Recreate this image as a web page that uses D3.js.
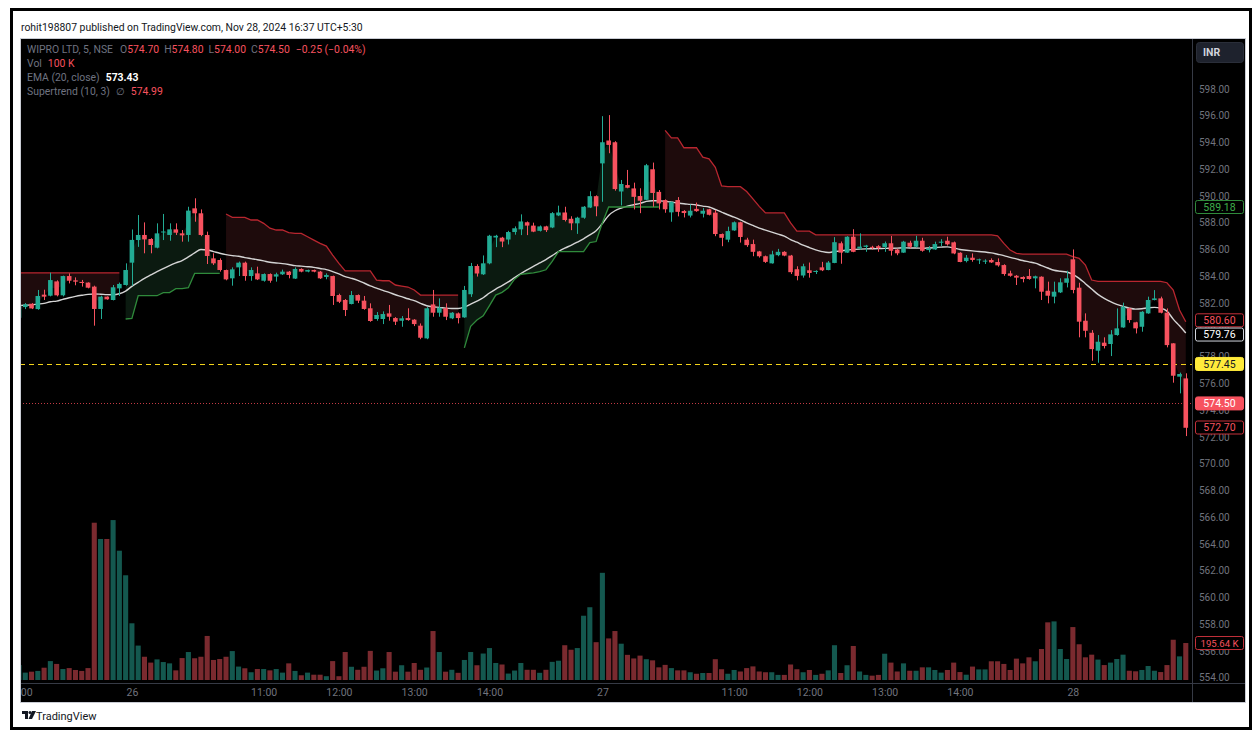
<!DOCTYPE html>
<html>
<head>
<meta charset="utf-8" />
<title>WIPRO LTD, 5, NSE</title>
<script src="https://cdn.jsdelivr.net/npm/d3@7"></script>
<style>
    body { margin: 0; background: #fff; }
    svg text { font-family: Roboto, "Noto Sans", sans-serif; }
</style>
</head>
<body>
<script>

// ---- data (5 min bars, 25 Nov 14:00 -> 28 Nov 10:45) ----
const openP = [
580.90,581.70,581.95,581.55,582.63,582.55,583.62,582.58,584.02,583.70,583.58,583.53,583.23,581.56,582.48,582.23,583.10,583.35,
585.02,586.71,587.09,586.79,586.14,587.30,587.09,587.51,587.21,587.09,589.08,588.71,587.09,585.34,585.22,584.47,583.85,584.67,
585.02,584.02,584.22,583.67,584.17,583.98,584.15,584.35,583.83,584.55,584.35,584.47,584.35,583.95,584.02,582.60,582.23,581.93,
582.60,582.18,581.61,580.81,580.81,581.23,580.88,580.68,580.88,580.76,580.31,579.36,581.90,581.28,581.61,580.86,581.23,580.93,
582.66,584.77,584.15,584.97,586.90,586.89,586.75,587.31,587.51,588.04,587.79,587.40,587.73,587.65,588.55,588.77,588.30,587.96,
588.38,589.14,589.99,
592.44,594.15,594.02,590.34,590.82,590.57,590.00,589.72,592.00,590.31,589.70,588.78,589.70,588.88,588.54,589.04,588.68,589.01,
588.76,587.16,586.74,587.43,588.04,586.74,586.41,585.86,585.50,584.97,585.58,585.83,585.55,584.53,584.06,584.45,584.33,584.67,
584.47,585.00,586.47,585.77,586.96,586.08,586.20,586.20,586.25,586.19,586.47,586.00,585.77,586.51,586.21,586.66,585.96,586.01,
586.51,586.66,586.54,585.76,585.14,585.39,585.22,585.12,585.22,585.07,584.84,584.22,584.04,583.95,584.02,583.85,583.97,582.92,
582.48,582.80,583.52,
585.27,583.15,580.68,579.78,578.44,579.04,578.94,579.61,580.18,581.60,580.56,580.23,581.23,582.23,582.35,581.28,578.99,576.50,
576.37];
const highP = [
581.90,582.00,582.00,582.98,583.00,584.27,583.70,584.05,584.22,583.92,583.73,583.55,583.30,582.55,582.50,583.35,583.53,584.97,
587.50,588.58,588.03,586.85,587.96,588.66,587.96,587.96,587.46,589.20,589.83,589.00,587.34,585.72,585.34,584.50,584.67,585.10,
585.10,584.67,584.72,584.22,584.22,584.27,584.50,584.40,584.67,584.60,584.50,584.50,584.40,584.22,584.05,582.70,582.30,582.90,
582.65,582.53,581.98,581.33,581.38,581.86,580.95,581.03,581.61,580.80,580.48,581.70,582.98,582.35,581.98,581.33,581.30,583.28,
585.00,584.90,585.56,587.10,587.10,586.95,587.40,587.73,588.63,588.10,588.01,587.80,587.78,588.80,589.28,589.20,588.49,588.45,
589.25,590.36,590.05,
595.97,596.05,594.10,591.20,591.95,591.00,590.58,592.40,592.50,590.45,589.75,589.60,589.92,588.95,589.37,589.51,589.10,589.05,
588.96,587.20,587.71,588.10,588.08,586.88,586.74,585.90,585.55,585.91,586.05,585.88,585.60,584.75,584.94,585.03,584.45,585.08,
585.14,586.93,586.60,587.00,587.52,587.21,586.35,586.28,586.33,586.60,587.02,586.05,586.65,586.66,587.03,586.88,586.26,586.59,
586.78,586.96,586.60,585.80,585.59,585.71,585.32,585.27,585.34,585.34,584.90,584.42,584.10,584.00,584.54,584.05,584.00,583.60,
583.60,583.85,584.42,
586.01,583.52,581.23,579.98,579.61,579.44,579.98,581.60,582.03,581.65,580.60,581.40,582.48,582.97,582.48,581.60,579.00,576.80,
576.75];
const lowP = [
580.80,581.55,581.55,581.50,582.23,582.50,582.50,582.50,583.47,583.33,583.23,583.10,580.31,580.81,582.25,582.20,582.53,583.30,
583.30,586.20,585.72,585.72,586.09,586.71,586.66,587.09,586.59,586.59,588.08,587.00,584.92,584.85,584.35,583.70,583.30,584.02,
583.67,583.67,583.72,583.60,583.52,583.60,584.10,583.85,583.80,584.30,584.30,584.30,583.80,583.78,581.86,582.00,581.03,581.90,
582.00,581.50,580.60,580.68,580.43,580.68,580.36,580.23,580.68,580.28,579.30,579.30,580.98,580.98,580.73,580.80,580.48,580.90,
582.46,583.98,584.10,584.90,586.18,586.18,586.38,587.11,587.08,587.08,587.30,587.35,587.31,587.60,588.50,588.10,587.45,587.17,
588.30,589.10,588.49,
589.57,593.20,590.40,589.30,590.58,589.00,588.72,589.70,589.20,589.00,588.75,588.08,588.48,588.40,588.40,588.82,588.40,588.55,
587.00,586.25,586.55,587.40,586.52,586.20,585.50,585.40,585.00,584.95,585.50,585.50,584.17,583.70,583.90,583.90,584.17,584.39,
584.45,584.98,584.94,585.75,585.80,586.00,585.83,585.99,585.83,585.83,585.55,585.58,585.75,586.09,586.15,585.84,585.79,585.98,
586.26,586.30,585.65,585.05,585.04,585.09,584.92,584.92,585.00,584.72,584.04,583.97,583.35,583.55,583.75,583.10,582.23,581.98,
581.98,582.75,583.17,
582.73,579.44,579.44,577.69,577.54,578.61,578.04,579.56,580.15,580.53,579.73,579.86,581.20,582.20,581.23,578.69,576.05,575.25,
572.06];
const closeP = [
581.85,581.90,581.60,582.53,582.48,583.72,582.58,584.02,583.67,583.60,583.50,583.15,581.56,582.48,582.28,583.18,583.43,584.47,
586.72,587.09,586.76,586.34,587.21,587.35,587.51,587.26,587.06,588.91,588.71,587.09,585.52,584.97,584.47,583.77,584.52,585.02,
584.02,584.47,583.77,584.17,583.67,584.15,584.35,584.10,584.55,584.35,584.47,584.35,583.85,584.10,582.53,582.10,581.48,582.60,
582.18,581.56,580.66,581.11,581.18,580.98,580.61,580.86,580.73,580.43,579.41,581.61,581.28,581.66,580.98,581.28,580.88,582.98,
584.77,584.21,584.97,587.03,587.03,586.60,587.31,587.59,588.10,587.79,587.34,587.73,587.45,588.72,588.77,588.21,587.96,588.38,
589.20,589.99,589.23,
594.02,593.82,590.52,590.90,590.62,589.94,589.65,592.30,590.23,589.45,589.01,589.55,588.82,588.73,588.90,588.87,588.90,588.60,
587.16,586.88,587.38,588.04,586.94,586.33,585.83,585.50,585.08,585.64,585.83,585.55,584.31,584.03,584.75,584.25,584.40,584.45,
585.03,586.55,585.77,586.96,585.83,586.22,586.30,586.17,586.11,586.47,585.91,585.72,586.59,586.21,586.66,585.91,586.09,586.41,
586.59,586.39,585.71,585.07,585.39,585.22,585.27,585.17,585.04,584.82,584.17,584.04,583.90,583.80,583.80,584.00,582.85,582.55,
582.85,583.55,583.85,
582.98,580.61,579.93,578.56,579.11,578.79,579.66,580.11,581.73,580.73,580.11,581.35,582.23,582.35,581.28,578.86,576.57,576.70,
572.68];
// volume, thousands
const volK = [
79,39,44,48,65,100,85,58,63,53,48,63,832,746,746,846,684,554,
300,182,123,92,109,95,88,51,116,148,115,123,233,106,111,123,153,71,
62,41,58,58,51,58,39,88,48,25,39,28,28,20,100,20,148,70,
54,70,154,50,62,148,44,78,44,90,54,66,259,148,44,54,38,106,
148,78,140,169,90,82,34,50,90,54,54,38,54,96,102,184,160,169,
340,385,200,
567,220,259,192,133,114,129,110,104,67,80,63,51,51,41,33,37,37,
110,57,33,53,45,63,72,45,41,41,27,27,82,57,41,53,27,33,
51,184,37,78,180,45,27,23,27,139,92,45,88,49,49,67,67,53,
39,53,92,42,28,71,56,56,99,99,85,53,113,88,120,99,164,305,
310,164,111,
280,189,120,134,108,79,92,111,134,49,46,53,74,49,42,79,213,125,
195.64];
// EMA (20, close) as drawn
const emaVals = [
581.82,581.84,581.86,581.92,581.98,582.10,582.15,582.28,582.40,582.50,582.58,582.65,582.68,582.66,582.63,582.62,582.70,582.90,
583.25,583.55,583.85,584.10,584.35,584.58,584.80,585.00,585.18,585.45,585.75,586.00,585.97,585.85,585.72,585.62,585.55,585.50,
585.40,585.32,585.24,585.15,585.05,585.00,584.95,584.88,584.80,584.76,584.72,584.67,584.58,584.50,584.35,584.18,583.98,583.85,
583.70,583.50,583.28,583.12,582.95,582.80,582.62,582.48,582.32,582.18,581.98,581.80,581.72,581.68,581.62,581.60,581.60,581.70,
581.92,582.15,582.40,582.75,583.05,583.30,583.58,583.90,584.20,584.48,584.75,585.00,585.25,585.55,585.85,586.10,586.32,586.55,
586.80,587.10,587.40,
587.95,588.55,588.90,589.10,589.25,589.35,589.45,589.60,589.65,589.65,589.60,589.55,589.48,589.42,589.38,589.33,589.25,589.18,
589.00,588.80,588.60,588.42,588.22,588.00,587.80,587.60,587.45,587.30,587.15,587.00,586.75,586.55,586.33,586.15,585.98,585.85,
585.78,585.85,585.90,585.97,586.00,586.03,586.05,586.06,586.07,586.09,586.10,586.11,586.13,586.12,586.12,586.10,586.12,586.15,
586.18,586.20,586.12,586.00,585.95,585.90,585.85,585.82,585.75,585.65,585.55,585.42,585.30,585.18,585.08,584.98,584.80,584.62,
584.45,584.38,584.32,
584.15,583.85,583.45,583.05,582.65,582.35,582.10,581.90,581.75,581.62,581.55,581.58,581.65,581.68,581.62,581.40,580.80,580.30,
579.76];
// Supertrend (10, 3) as drawn
const stVals = [
584.25,584.25,584.25,584.25,584.25,584.25,584.25,584.25,584.25,584.25,584.25,584.25,584.25,584.25,584.25,584.25,584.25,580.81,
580.85,582.55,582.55,582.55,582.55,582.78,582.78,583.08,583.08,583.15,584.22,584.22,584.22,584.22,584.22,588.66,588.41,588.41,
588.41,588.21,588.21,587.96,587.60,587.46,587.46,587.26,587.21,587.21,586.96,586.71,586.46,586.26,585.59,584.97,584.40,584.40,
584.40,584.40,584.40,583.72,583.67,583.67,583.35,583.27,583.20,582.98,582.60,582.60,582.60,582.60,582.60,582.60,582.60,578.65,
580.26,580.74,581.05,581.81,582.60,582.80,583.14,583.79,584.15,584.21,584.26,584.35,584.49,585.11,585.84,585.84,585.84,585.84,
585.84,586.52,586.60,
588.00,589.18,589.18,589.18,589.18,589.18,589.18,589.18,589.18,589.18,594.91,594.35,594.35,593.61,593.61,593.61,592.91,592.78,
592.14,590.76,590.70,590.70,590.70,590.34,589.79,589.23,588.74,588.74,588.74,588.74,587.99,587.38,587.38,587.38,587.10,587.10,
587.10,587.10,587.10,587.10,587.10,587.10,587.10,587.10,587.10,587.10,587.10,587.10,587.10,587.10,587.10,587.10,587.10,587.10,
587.10,587.10,587.10,587.10,587.10,587.10,587.10,587.10,587.10,587.03,586.46,585.96,585.71,585.66,585.66,585.66,585.66,585.66,
585.66,585.66,585.66,
585.47,585.34,584.84,583.72,583.62,583.62,583.62,583.62,583.62,583.62,583.62,583.62,583.62,583.62,583.62,583.52,582.97,581.48,
580.60];
const stFlips = [17, 33, 71, 103];   // bars where the Supertrend changes side
const stStartDir = -1;                // -1: above price (red), 1: below price (green)

const priceTicks = [598,596,594,592,590,588,586,584,582,580,578,576,574,572,570,568,566,564,562,560,558,556,554];
const timeTickIdx = [0, 18, 39, 51, 63, 75, 93, 114, 126, 138, 150, 168];
const timeTickLbl = ["14:00","26","11:00","12:00","13:00","14:00","27","11:00","12:00","13:00","14:00","28"];

const legendOHLC = ["574.70", "574.80", "574.00", "574.50"];
const legendChg = "\u22120.25 (\u22120.04%)";
const legendVol = "100 K";
const legendEma = "573.43";
const legendSt = "574.99";

const hLineVal = 577.45;      // drawn horizontal line
const lastPrice = 574.50;
const stUpLast = 589.18, stDnLast = 580.60, emaLast = 579.76, closeLast = 572.70;
const volLast = 195.64, volLastLbl = "195.64 K";

// ---- layout ----
const W = 1260, H = 734;
const plot = {left: 20, right: 1192, top: 38, bottom: 683};
const paneRight = 1245, paneBottom = 702;

const RED = "#f7525f", TEAL = "#22ab94";
const VRED = "#7a2a2f", VTEAL = "#14584f";
const AXIS_TXT = "#70737d";

const n = closeP.length;
const step = 6.273;

let x = d3.scaleLinear().domain([0, n - 1]).range([19, 19 + (n - 1) * step]);
let y = d3.scaleLinear().domain([554, 598]).range([677.7, 89]);
let yv = d3.scaleLinear().domain([0, 1000]).range([680, 680 - 1000 / 5.29]);
let crisp = v => Math.round(v) + 0.5;

let svg = d3.select("body").append("svg")
    .attr("width", W)
    .attr("height", H);

svg.append("rect").attr("width", W).attr("height", H).attr("fill", "#fff");
// outer frame
svg.append("rect")
    .attr("x", 11.5).attr("y", 9.5)
    .attr("width", 1239).attr("height", 719)
    .attr("fill", "none").attr("stroke", "#000").attr("stroke-width", 3);

svg.append("text")
    .attr("x", 21).attr("y", 31)
    .attr("font-size", 10.4).attr("fill", "#131722")
    .text("rohit198807 published on TradingView.com, Nov 28, 2024 16:37 UTC+5:30");

// chart pane
svg.append("rect")
    .attr("x", plot.left + 0.5).attr("y", plot.top + 0.5)
    .attr("width", paneRight - plot.left).attr("height", paneBottom - plot.top)
    .attr("fill", "#000").attr("stroke", "#c9ccd4").attr("stroke-width", 1);

svg.append("defs").append("clipPath").attr("id", "clip")
    .append("rect")
    .attr("x", plot.left + 1).attr("y", plot.top + 1)
    .attr("width", plot.right - plot.left - 1).attr("height", plot.bottom - plot.top - 1);

let g = svg.append("g").attr("clip-path", "url(#clip)");

// volume
g.selectAll("rect.vol")
    .data(volK)
    .enter()
    .append("rect")
    .attr("class", "vol")
    .attr("x", (d, i) => x(i) - (step - 1.2) / 2)
    .attr("width", step - 1.2)
    .attr("y", d => yv(d))
    .attr("height", d => yv(0) - yv(d))
    .attr("fill", (d, i) => closeP[i] >= openP[i] ? VTEAL : VRED);

// supertrend: split into runs of the same side
let dirs = [];
let dir = stStartDir;
for (let i = 0; i < n; i++) {
    if (stFlips.includes(i)) dir = -dir;
    dirs.push(dir);
}
let runs = [];
for (let i = 0; i < n; i++) {
    if (i === 0 || dirs[i] !== dirs[i - 1]) runs.push({dir: dirs[i], idx: []});
    runs[runs.length - 1].idx.push(i);
}

let stArea = d3.area()
    .x(i => x(i))
    .y0(i => y((openP[i] + closeP[i]) / 2))
    .y1(i => y(stVals[i]));
let stLine = d3.line()
    .x(i => x(i))
    .y(i => y(stVals[i]));

runs.forEach(r => {
    g.append("path")
        .attr("d", stArea(r.idx))
        .attr("fill", r.dir > 0 ? "#0b1a10" : "#1e0b0c");
});

// EMA
g.append("path")
    .datum(emaVals)
    .attr("d", d3.line().x((d, i) => x(i)).y(d => y(d)).curve(d3.curveMonotoneX))
    .attr("fill", "none")
    .attr("stroke", "#d4d4d4")
    .attr("stroke-width", 1.4);

runs.forEach(r => {
    g.append("path")
        .attr("d", stLine(r.idx))
        .attr("fill", "none")
        .attr("stroke", r.dir > 0 ? "#2f8a3b" : "#b8262f")
        .attr("stroke-width", 1.3);
});

// horizontal lines
g.append("line")
    .attr("x1", plot.left).attr("x2", plot.right)
    .attr("y1", crisp(y(hLineVal))).attr("y2", crisp(y(hLineVal)))
    .attr("stroke", "#f2d21b").attr("stroke-width", 1)
    .attr("stroke-dasharray", "5,4");
g.append("line")
    .attr("x1", plot.left).attr("x2", plot.right)
    .attr("y1", crisp(y(lastPrice))).attr("y2", crisp(y(lastPrice)))
    .attr("stroke", "#c23a44").attr("stroke-width", 1)
    .attr("stroke-dasharray", "1,2");

// candles
let candles = g.selectAll("g.candle")
    .data(closeP)
    .enter()
    .append("g")
    .attr("class", "candle");

candles.append("line")
    .attr("x1", (d, i) => crisp(x(i)))
    .attr("x2", (d, i) => crisp(x(i)))
    .attr("y1", (d, i) => y(highP[i]))
    .attr("y2", (d, i) => y(lowP[i]))
    .attr("stroke", (d, i) => d >= openP[i] ? TEAL : RED)
    .attr("stroke-width", 1);

candles.append("rect")
    .attr("x", (d, i) => x(i) - 2.3)
    .attr("width", 4.6)
    .attr("y", (d, i) => y(Math.max(d, openP[i])))
    .attr("height", (d, i) => Math.max(1, Math.abs(y(d) - y(openP[i]))))
    .attr("fill", (d, i) => d >= openP[i] ? TEAL : RED);

// axis separators
svg.append("line")
    .attr("x1", plot.right + 0.5).attr("x2", plot.right + 0.5)
    .attr("y1", plot.top + 1).attr("y2", paneBottom)
    .attr("stroke", "#363a45");
svg.append("line")
    .attr("x1", plot.left + 1).attr("x2", paneRight)
    .attr("y1", plot.bottom + 0.5).attr("y2", plot.bottom + 0.5)
    .attr("stroke", "#363a45");

// axis labels that sit on top of the price scale
let boxes = [
    {v: stUpLast, t: stUpLast.toFixed(2), yy: y(stUpLast), fill: "#000", stroke: "#2f8a3b", txt: "#3fae4b"},
    {v: stDnLast, t: stDnLast.toFixed(2), yy: y(stDnLast) - 1.5, fill: "#000", stroke: "#c3303a", txt: RED},
    {v: emaLast, t: emaLast.toFixed(2), yy: y(emaLast) + 1.5, fill: "#000", stroke: "#d1d4dc", txt: "#ffffff"},
    {v: hLineVal, t: hLineVal.toFixed(2), yy: y(hLineVal), fill: "#ffeb3b", stroke: "#ffeb3b", txt: "#131722"},
    {v: lastPrice, t: lastPrice.toFixed(2), yy: y(lastPrice), fill: RED, stroke: RED, txt: "#ffffff"},
    {v: closeLast, t: closeLast.toFixed(2), yy: y(closeLast), fill: "#000", stroke: "#c3303a", txt: RED},
    {v: volLast, t: volLastLbl, yy: yv(volLast), fill: "#000", stroke: "#c3303a", txt: RED}
];

// price axis (ticks hidden where a label box covers them completely)
let yAxis = d3.axisRight(y)
    .tickValues(priceTicks.filter(p => !boxes.some(b => Math.abs(b.yy - y(p)) < 4)))
    .tickFormat(d3.format(".2f"))
    .tickSize(0)
    .tickPadding(7);
let ya = svg.append("g")
    .attr("transform", "translate(" + plot.right + ",0)")
    .call(yAxis);
ya.select(".domain").remove();
ya.selectAll("text")
    .attr("fill", AXIS_TXT)
    .attr("font-size", 10)
    .attr("font-family", "Roboto, 'Noto Sans', sans-serif");

// time axis
let xAxis = d3.axisBottom(x)
    .tickValues(timeTickIdx)
    .tickFormat((d, k) => timeTickLbl[k])
    .tickSize(0)
    .tickPadding(6);
svg.append("defs").append("clipPath").attr("id", "clipx")
    .append("rect")
    .attr("x", plot.left + 1).attr("y", plot.bottom)
    .attr("width", plot.right - plot.left).attr("height", paneBottom - plot.bottom);
let xa = svg.append("g")
    .attr("clip-path", "url(#clipx)")
    .append("g")
    .attr("transform", "translate(0," + plot.bottom + ")")
    .call(xAxis);
xa.select(".domain").remove();
xa.selectAll("text")
    .attr("fill", AXIS_TXT)
    .attr("font-size", 10.5)
    .attr("font-family", "Roboto, 'Noto Sans', sans-serif");

boxes.forEach(b => {
    let bx = svg.append("g").attr("transform", "translate(" + (plot.right + 3) + "," + b.yy + ")");
    bx.append("rect")
        .attr("x", 0.5).attr("y", -6.5)
        .attr("width", 48).attr("height", 13)
        .attr("rx", 2)
        .attr("fill", b.fill).attr("stroke", b.stroke);
    bx.append("text")
        .attr("x", 24.5).attr("y", 3.6)
        .attr("text-anchor", "middle")
        .attr("font-size", b.t.length > 6 ? 9.6 : 10.5)
        .attr("fill", b.txt)
        .text(b.t);
});

// INR button
svg.append("rect")
    .attr("x", 1196.5).attr("y", 42.5)
    .attr("width", 47).attr("height", 20)
    .attr("rx", 3)
    .attr("fill", "#1e222d").attr("stroke", "#2a2e39");
svg.append("text")
    .attr("x", 1203).attr("y", 56)
    .attr("font-size", 10.5).attr("font-weight", "bold")
    .attr("fill", "#d1d4dc")
    .text("INR");

// legend
let GRAY = "#6f7380";
let leg = svg.append("g").attr("font-size", 10.4);
let l1 = leg.append("text").attr("x", 27).attr("y", 53);
l1.append("tspan").attr("fill", GRAY).text("WIPRO LTD, 5, NSE");
["O", "H", "L", "C"].forEach((k, j) => {
    l1.append("tspan").attr("fill", GRAY).attr("dx", j === 0 ? 7 : 5).text(k);
    l1.append("tspan").attr("fill", RED).text(legendOHLC[j]);
});
l1.append("tspan").attr("fill", RED).attr("dx", 6).text(legendChg);

let l2 = leg.append("text").attr("x", 27).attr("y", 67);
l2.append("tspan").attr("fill", GRAY).text("Vol");
l2.append("tspan").attr("fill", RED).attr("dx", 6).text(legendVol);

let l3 = leg.append("text").attr("x", 27).attr("y", 81);
l3.append("tspan").attr("fill", GRAY).text("EMA (20, close)");
l3.append("tspan").attr("fill", "#ffffff").attr("dx", 6).attr("font-weight", "bold").text(legendEma);

let l4 = leg.append("text").attr("x", 27).attr("y", 95);
l4.append("tspan").attr("fill", GRAY).text("Supertrend (10, 3)");
l4.append("tspan").attr("fill", GRAY).attr("dx", 6).text("\u2205");
l4.append("tspan").attr("fill", RED).attr("dx", 6).text(legendSt);

// TradingView mark
let logo = svg.append("g").attr("transform", "translate(22,711)");
logo.append("path").attr("d", "M0 0 H6 V8 H3 V3 H0 Z").attr("fill", "#131722");
logo.append("circle").attr("cx", 8).attr("cy", 1.5).attr("r", 1.5).attr("fill", "#131722");
logo.append("path").attr("d", "M10 0 H14 L10 8 H6.5 Z").attr("fill", "#131722");
svg.append("text")
    .attr("x", 36).attr("y", 720)
    .attr("font-size", 11).attr("fill", "#131722")
    .text("TradingView");

</script>
</body>
</html>
